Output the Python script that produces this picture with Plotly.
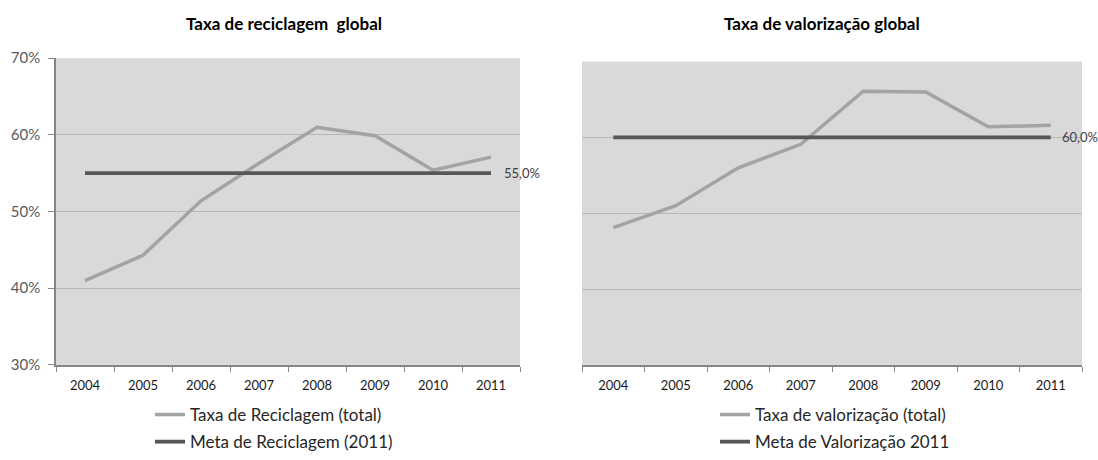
import plotly.graph_objects as go

anos = ['2004', '2005', '2006', '2007', '2008', '2009', '2010', '2011']
taxa_reciclagem = [41.0, 44.3, 51.4, 56.3, 61.0, 59.9, 55.4, 57.1]
meta_reciclagem = 55.0
taxa_valorizacao = [48.1, 51.0, 56.0, 59.1, 66.1, 66.0, 61.4, 61.6]
meta_valorizacao = 60.0
y_ticks = [30, 40, 50, 60, 70]
y_ticktext = [f"{v}%" for v in y_ticks]

FONT = "Lato, 'Open Sans', sans-serif"
LIGHT = '#a3a3a3'
DARK = '#575757'
W, H = 1098, 460


def fmt(v):
    return f"{v:.1f}".replace('.', ',') + '%'


fig = go.Figure()

fig.add_trace(go.Scatter(x=anos, y=taxa_reciclagem, mode='lines', name='Taxa de Reciclagem (total)',
                         line=dict(color=LIGHT, width=3.5), xaxis='x', yaxis='y', legend='legend',
                         legendgroup='a'))
fig.add_trace(go.Scatter(x=anos, y=[meta_reciclagem] * len(anos), mode='lines', name='Meta de Reciclagem (2011)',
                         line=dict(color=DARK, width=3.8), xaxis='x', yaxis='y', legend='legend',
                         legendgroup='b'))
fig.add_trace(go.Scatter(x=anos, y=taxa_valorizacao, mode='lines', name='Taxa de valorização (total)',
                         line=dict(color=LIGHT, width=3.5), xaxis='x2', yaxis='y2', legend='legend2',
                         legendgroup='c'))
fig.add_trace(go.Scatter(x=anos, y=[meta_valorizacao] * len(anos), mode='lines', name='Meta de Valorização 2011',
                         line=dict(color=DARK, width=3.8), xaxis='x2', yaxis='y2', legend='legend2',
                         legendgroup='d'))

xcommon = dict(type='category', range=[-0.5, 7.5], tickson='boundaries', ticks='outside', ticklen=5,
               tickcolor='#868686', showline=True, linecolor='#868686', linewidth=1.5, showgrid=False,
               ticklabelstandoff=8,
               tickfont=dict(family=FONT, size=13, color='#1a1a1a'), fixedrange=True, automargin=False)
ycommon = dict(range=[30, 70], tickmode='array', tickvals=y_ticks, showgrid=True, gridcolor='#b8b8b8',
               gridwidth=1.2, zeroline=False, fixedrange=True, automargin=False)

y0 = 1 - 373 / H
fig.update_layout(
    template='none',
    width=W, height=H, autosize=False,
    margin=dict(l=0, r=0, t=0, b=0, pad=0),
    paper_bgcolor='white', plot_bgcolor='#d9d9d9',
    font=dict(family=FONT, color='#333333'),
    xaxis=dict(domain=[56 / W, 520 / W], anchor='y', **xcommon),
    yaxis=dict(domain=[y0, 1 - 59.5 / H], anchor='x', ticktext=y_ticktext, ticks='outside', ticklen=6,
               tickcolor='#868686', showline=True, linecolor='#868686', linewidth=1.5, ticklabelstandoff=5,
               tickfont=dict(family=FONT, size=15, color='#595959'), **ycommon),
    xaxis2=dict(domain=[582 / W, 1082 / W], anchor='y2', **xcommon),
    yaxis2=dict(domain=[y0, 1 - 63 / H], anchor='x2', showticklabels=False, showline=False, ticks='', **ycommon),
    legend=dict(x=274 / W, xanchor='center', y=1 - 406 / H, yanchor='top', orientation='v',
                font=dict(family=FONT, size=17, color='#262626'), bgcolor='rgba(0,0,0,0)',
                tracegroupgap=2, itemwidth=30),
    legend2=dict(x=835 / W, xanchor='center', y=1 - 406 / H, yanchor='top', orientation='v',
                 font=dict(family=FONT, size=17, color='#262626'), bgcolor='rgba(0,0,0,0)',
                 tracegroupgap=2, itemwidth=30),
    showlegend=True,
)

fig.add_annotation(text='<b>Taxa de reciclagem  global</b>', xref='paper', yref='paper', x=284 / W,
                   y=1 - 24.5 / H, xanchor='center', yanchor='middle', showarrow=False,
                   font=dict(family=FONT, size=17, color='#000000'))
fig.add_annotation(text='<b>Taxa de valorização global</b>', xref='paper', yref='paper', x=822 / W,
                   y=1 - 24.5 / H, xanchor='center', yanchor='middle', showarrow=False,
                   font=dict(family=FONT, size=17, color='#000000'))

last = len(anos) - 1
fig.add_annotation(text=fmt(meta_reciclagem), xref='x', yref='y', x=last, y=meta_reciclagem,
                   xanchor='left', yanchor='middle', xshift=11, showarrow=False,
                   font=dict(family=FONT, size=13, color='#404040'))
fig.add_annotation(text=fmt(meta_valorizacao), xref='x2', yref='y2', x=last, y=meta_valorizacao,
                   xanchor='left', yanchor='middle', xshift=9, showarrow=False,
                   font=dict(family=FONT, size=13, color='#404040'))

post = ("document.documentElement.style.margin='0';document.documentElement.style.overflow='hidden';"
        "document.body.style.margin='0';document.body.style.padding='0';document.body.style.overflow='hidden';")
fig.write_html('out.html', config={'displayModeBar': False}, post_script=post)
